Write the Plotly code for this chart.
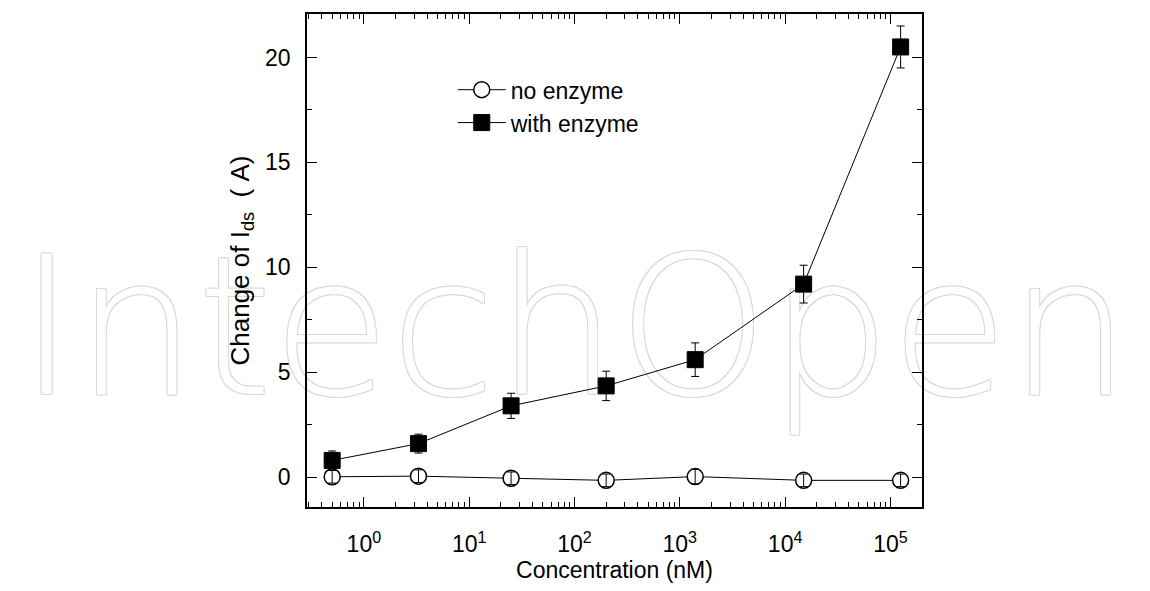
import plotly.graph_objects as go

# Data
concentration_nM = [0.5, 3.3, 25, 200, 1400, 15000, 125000]
no_enzyme = [0.02, 0.05, -0.05, -0.15, 0.03, -0.15, -0.15]
no_enzyme_err = [0.3, 0.3, 0.3, 0.3, 0.35, 0.3, 0.3]
with_enzyme = [0.8, 1.6, 3.4, 4.35, 5.6, 9.2, 20.5]
with_enzyme_err = [0.45, 0.45, 0.6, 0.7, 0.8, 0.9, 1.0]

x_tickvals = [1, 10, 100, 1000, 10000, 100000]
x_ticktext = ["10<sup>0</sup>", "10<sup>1</sup>", "10<sup>2</sup>",
              "10<sup>3</sup>", "10<sup>4</sup>", "10<sup>5</sup>"]
x_minor = [m * 10 ** e for e in range(-1, 6) for m in range(2, 10)]
y_tickvals = [0, 5, 10, 15, 20]
y_minor = [2.5, 7.5, 12.5, 17.5]

FONT = "Arial, 'Liberation Sans', sans-serif"
NB = "\u00a0"

fig = go.Figure()

# faint publisher watermark, drawn first so the chart sits on top of it
fig.add_trace(go.Scatter(
    x=[100], y=[6.25], mode="text", text=["IntechOpen"],
    textposition="middle center", cliponaxis=False, showlegend=False,
    hoverinfo="skip",
    textfont=dict(family="DejaVu Sans", size=192, color="white", weight=200,
                  shadow="-1px -1px 0 #d9d9d9, 1px -1px 0 #d9d9d9, -1px 1px 0 #d9d9d9, 1px 1px 0 #d9d9d9"),
))

series = [
    ("no enzyme", no_enzyme, no_enzyme_err, "circle", "white", 1.5),
    ("with enzyme", with_enzyme, with_enzyme_err, "square", "black", 1),
]
for name, yvals, err, sym, fill, lw in series:
    fig.add_trace(go.Scatter(
        x=concentration_nM, y=yvals, name=name, legendgroup=name,
        mode="lines+markers",
        line=dict(color="black", width=1),
        marker=dict(symbol=sym, size=16, color=fill,
                    line=dict(color="black", width=lw)),
    ))
# error bars drawn over the symbols (as in the original)
for name, yvals, err, sym, fill, lw in series:
    fig.add_trace(go.Scatter(
        x=concentration_nM, y=yvals, mode="markers", showlegend=False,
        hoverinfo="skip",
        marker=dict(size=1, color="rgba(0,0,0,0)"),
        error_y=dict(type="data", array=err, color="black",
                     thickness=1, width=4),
    ))

fig.update_layout(
    width=1150, height=591,
    margin=dict(l=307, r=228, t=12, b=77),
    paper_bgcolor="white", plot_bgcolor="rgba(0,0,0,0)",
    font=dict(family=FONT, color="black", size=23),
    showlegend=True,
    legend=dict(x=0.237, y=0.89, xanchor="left", yanchor="top",
                bgcolor="rgba(0,0,0,0)", font=dict(size=23),
                tracegroupgap=0, itemwidth=48),
    xaxis=dict(
        type="log", range=[-0.54, 5.30],
        tickvals=x_tickvals, ticktext=x_ticktext,
        ticks="inside", ticklen=10, tickwidth=1.2, tickcolor="black",
        minor=dict(tickvals=x_minor, ticks="inside", ticklen=5,
                   tickwidth=1.2, tickcolor="black"),
        showline=True, linecolor="black", linewidth=1.5, mirror="allticks",
        showgrid=False, zeroline=False, ticklabelstandoff=16,
        tickfont=dict(size=23),
        title=dict(text="Concentration (nM)", font=dict(size=23), standoff=6),
    ),
    yaxis=dict(
        range=[-1.42, 22.07],
        tickvals=y_tickvals,
        ticks="inside", ticklen=10, tickwidth=1.2, tickcolor="black",
        minor=dict(tickvals=y_minor, ticks="inside", ticklen=5,
                   tickwidth=1.2, tickcolor="black"),
        showline=True, linecolor="black", linewidth=1.5, mirror="allticks",
        showgrid=False, zeroline=False, ticklabelstandoff=10,
        tickfont=dict(size=23),
        title=dict(text="Change of I<sub>ds</sub>" + NB * 2 + "(" + NB + "A)" + NB * 3,
                   font=dict(size=26), standoff=8),
    ),
)

fig.write_html("out.html")
